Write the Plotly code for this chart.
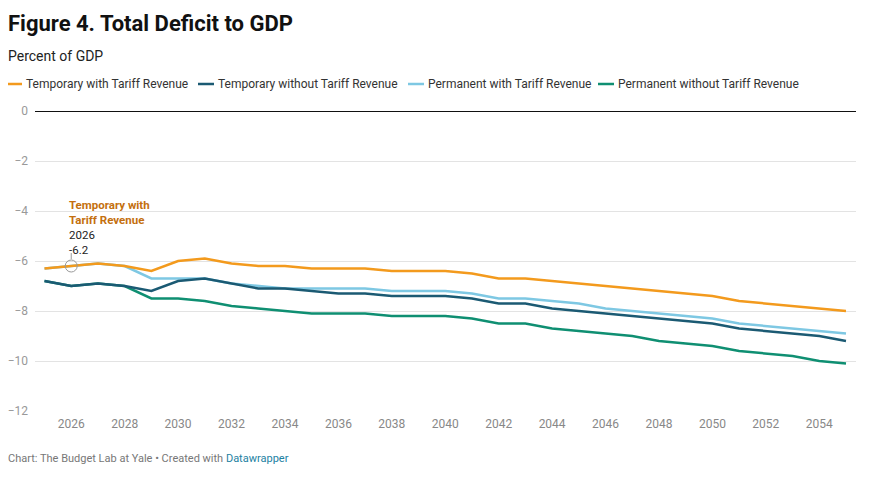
import plotly.graph_objects as go

years = list(range(2025, 2056))

temp_with = [-6.3, -6.2, -6.1, -6.2, -6.4, -6.0, -5.9, -6.1, -6.2, -6.2,
             -6.3, -6.3, -6.3, -6.4, -6.4, -6.4, -6.5, -6.7, -6.7, -6.8,
             -6.9, -7.0, -7.1, -7.2, -7.3, -7.4, -7.6, -7.7, -7.8, -7.9, -8.0]
temp_without = [-6.8, -7.0, -6.9, -7.0, -7.2, -6.8, -6.7, -6.9, -7.1, -7.1,
                -7.2, -7.3, -7.3, -7.4, -7.4, -7.4, -7.5, -7.7, -7.7, -7.9,
                -8.0, -8.1, -8.2, -8.3, -8.4, -8.5, -8.7, -8.8, -8.9, -9.0, -9.2]
perm_with = [-6.3, -6.2, -6.1, -6.2, -6.7, -6.7, -6.7, -6.9, -7.0, -7.1,
             -7.1, -7.1, -7.1, -7.2, -7.2, -7.2, -7.3, -7.5, -7.5, -7.6,
             -7.7, -7.9, -8.0, -8.1, -8.2, -8.3, -8.5, -8.6, -8.7, -8.8, -8.9]
perm_without = [-6.8, -7.0, -6.9, -7.0, -7.5, -7.5, -7.6, -7.8, -7.9, -8.0,
                -8.1, -8.1, -8.1, -8.2, -8.2, -8.2, -8.3, -8.5, -8.5, -8.7,
                -8.8, -8.9, -9.0, -9.2, -9.3, -9.4, -9.6, -9.7, -9.8, -10.0, -10.1]

series_names = ["Temporary with Tariff Revenue", "Temporary without Tariff Revenue",
                "Permanent with Tariff Revenue", "Permanent without Tariff Revenue"]
series_values = [temp_with, temp_without, perm_with, perm_without]
colors = ["#f39a1d", "#1b5a73", "#7ec8e3", "#0f8f72"]

x_ticks = list(range(2026, 2055, 2))
y_ticks = [0, -2, -4, -6, -8, -10, -12]

highlight_year = 2026
highlight_value = temp_with[years.index(highlight_year)]

FONT = "Roboto"
OFF = 8  # page body margin
W, H = 871 - OFF, 480 - OFF
# plot area in reference screen pixels: x 35..856, y 111..411
L, R, T, B = 35 - OFF, W - (856 - OFF), 111 - OFF, H - (411 - OFF)
PW, PH = W - L - R, H - T - B


def px(xs):
    """reference screen x -> paper x"""
    return (xs - OFF - L) / PW


def py(ys):
    """reference screen y -> paper y"""
    return (H - B - (ys - OFF)) / PH


fig = go.Figure()

order = [2, 3, 1, 0]
for i in order:
    fig.add_trace(go.Scatter(
        x=years, y=series_values[i], mode="lines", name=series_names[i],
        line=dict(color=colors[i], width=2.5), showlegend=False,
        hovertemplate="%{x}: %{y}<extra>" + series_names[i] + "</extra>"))

fig.add_trace(go.Scatter(
    x=[highlight_year], y=[highlight_value], mode="markers", showlegend=False,
    marker=dict(symbol="circle-open", size=12, color="#9a9a9a", line=dict(width=1)),
    hoverinfo="skip"))

shapes = [
    dict(type="line", xref="x", yref="y", x0=highlight_year, x1=highlight_year,
         y0=highlight_value + 0.27, y1=highlight_value + 0.52,
         line=dict(color="#9a9a9a", width=1)),
]

annotations = []
annotations.append(dict(text="<b>Figure 4. Total Deficit to GDP</b>", xref="paper", yref="paper",
                        x=px(6), y=py(24), xanchor="left", yanchor="middle", showarrow=False,
                        font=dict(family=FONT, size=22, color="#111111")))
annotations.append(dict(text="Percent of GDP", xref="paper", yref="paper",
                        x=px(6), y=py(56), xanchor="left", yanchor="middle", showarrow=False,
                        font=dict(family=FONT, size=14, color="#222222")))

legend_x = [6, 198, 408, 598]
for i, lx in enumerate(legend_x):
    shapes.append(dict(type="line", xref="paper", yref="paper",
                       x0=px(lx), x1=px(lx + 16), y0=py(84), y1=py(84),
                       line=dict(color=colors[i], width=2.5)))
    annotations.append(dict(text=series_names[i], xref="paper", yref="paper",
                            x=px(lx + 18), y=py(84), xanchor="left", yanchor="middle",
                            showarrow=False, font=dict(family=FONT, size=12, color="#333333")))

label_text = ("<span style='color:#c46f0e'><b>Temporary with</b></span><br>"
              "<span style='color:#c46f0e'><b>Tariff Revenue</b></span><br>"
              "<span style='color:#222222'>%d</span><br>"
              "<span style='color:#222222'>%.1f</span>" % (highlight_year, highlight_value))
annotations.append(dict(text=label_text, xref="x", yref="paper", x=highlight_year, y=py(227),
                        xanchor="left", yanchor="middle", align="left", xshift=-4,
                        showarrow=False, font=dict(family=FONT, size=11.5, color="#222222")))

annotations.append(dict(
    text="Chart: The Budget Lab at Yale • Created with <span style='color:#1d81a2'>Datawrapper</span>",
    xref="paper", yref="paper", x=px(6), y=py(458), xanchor="left", yanchor="middle",
    showarrow=False, font=dict(family=FONT, size=11, color="#777777")))

fig.update_layout(
    width=W, height=H,
    margin=dict(l=L, r=R, t=T, b=B, pad=0, autoexpand=False),
    paper_bgcolor="white", plot_bgcolor="white",
    font=dict(family=FONT, size=12, color="#888888"),
    shapes=shapes, annotations=annotations,
    showlegend=False,
)

fig.update_xaxes(
    range=[2025 - 9.5 / 26.7, 2055 + 10 / 26.7],
    tickmode="array", tickvals=x_ticks, ticktext=[str(t) for t in x_ticks],
    showgrid=False, zeroline=False, showline=False, ticks="", automargin=False,
    tickfont=dict(family=FONT, size=12, color="#888888"), ticklabelstandoff=4,
)

fig.update_yaxes(
    range=[-12, 0],
    tickmode="array", tickvals=y_ticks,
    showgrid=True, gridcolor="#e3e3e3", gridwidth=1,
    zeroline=True, zerolinecolor="#111111", zerolinewidth=1.3,
    showline=False, ticks="", automargin=False,
    tickfont=dict(family=FONT, size=12, color="#999999"), ticklabelstandoff=6,
)

fig.write_html("out.html")
